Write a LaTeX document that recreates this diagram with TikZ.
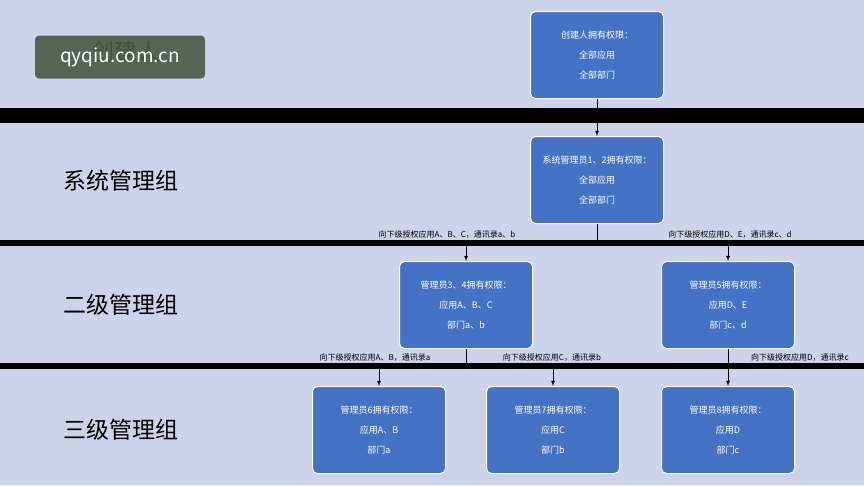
\documentclass[tikz,border=0pt]{standalone}
\usepackage{fontspec}
\setmainfont{Noto Sans CJK SC}
\usetikzlibrary{positioning}
\definecolor{bandbg}{HTML}{CDD3EA}
\definecolor{boxblue}{HTML}{4472C4}
\definecolor{markbg}{HTML}{4A5A45}
\begin{document}
\begin{tikzpicture}[x=1pt,y=-1pt,
        box/.style={draw=white, line width=1pt, fill=boxblue, rounded corners=5pt,
            minimum width=133pt, minimum height=87pt, text=white, align=center,
            font=\fontsize{9}{20}\selectfont},
        group/.style={anchor=west, font=\fontsize{23}{23}\selectfont},
        grant/.style={font=\fontsize{8}{8}\selectfont, anchor=south, inner sep=1pt},
        sep/.style={fill=black},
        link/.style={draw, -latex, line width=0.8pt},
    ]
    \useasboundingbox (0,0) rectangle (864,485);
    \fill[bandbg] (0,0) rectangle (864,485);
    % separators
    \fill[sep] (0,108) rectangle (864,123);
    \fill[sep] (0,240) rectangle (864,246);
    \fill[sep] (0,363) rectangle (864,369);

    % group names
    \node[group] (g0) at (88,52) {创建人};
    \node[group] (g1) at (60,181) {系统管理组};
    \node[group] (g2) at (60,305) {二级管理组};
    \node[group] (g3) at (60,430) {三级管理组};

    % boxes
    \node[box] (creator) at (597,55) {创建人拥有权限：\\全部应用\\全部部门};
    \node[box] (sys) at (597,180) {系统管理员1、2拥有权限：\\全部应用\\全部部门};
    \node[box] (adm34) at (466,305) {管理员3、4拥有权限：\\应用A、B、C\\部门a、b};
    \node[box] (adm5) at (728,305) {管理员5拥有权限：\\应用D、E\\部门c、d};
    \node[box] (adm6) at (379,430) {管理员6拥有权限：\\应用A、B\\部门a};
    \node[box] (adm7) at (553,430) {管理员7拥有权限：\\应用C\\部门b};
    \node[box] (adm8) at (728,430) {管理员8拥有权限：\\应用D\\部门c};

    % junctions on separators
    \coordinate (j1) at (597,243);
    \coordinate (j1a) at (466,243);
    \coordinate (j1b) at (728,243);
    \coordinate (j2) at (466,366);
    \coordinate (j2a) at (379,366);
    \coordinate (j2b) at (553,366);

    % connectors
    \draw[link] (creator) -- (sys);
    \draw[line width=0.8pt] (sys) -- (j1);
    \draw[link] (j1a) -- (adm34);
    \draw[link] (j1b) -- (adm5);
    \draw[line width=0.8pt] (adm34) -- (j2);
    \draw[link] (j2a) -- (adm6);
    \draw[link] (j2b) -- (adm7);
    \draw[link] (adm5) -- (adm8);

    % grant labels
    \node[grant] (t1) at (447,240) {向下级授权应用A、B、C，通讯录a、b};
    \node[grant] (t2) at (730,240) {向下级授权应用D、E，通讯录c、d};
    \node[grant] (t3) at (375,363) {向下级授权应用A、B，通讯录a};
    \node[grant] (t4) at (552,363) {向下级授权应用C，通讯录b};
    \node[grant] (t5) at (800,363) {向下级授权应用D，通讯录c};

    % watermark
    \node[fill=markbg, text=white, rounded corners=4pt, minimum width=170pt,
        minimum height=43pt, font=\fontsize{19}{19}\selectfont, opacity=0.9,
        text opacity=1] (mark) at (120,57) {qyqiu.com.cn};
\end{tikzpicture}
\end{document}
